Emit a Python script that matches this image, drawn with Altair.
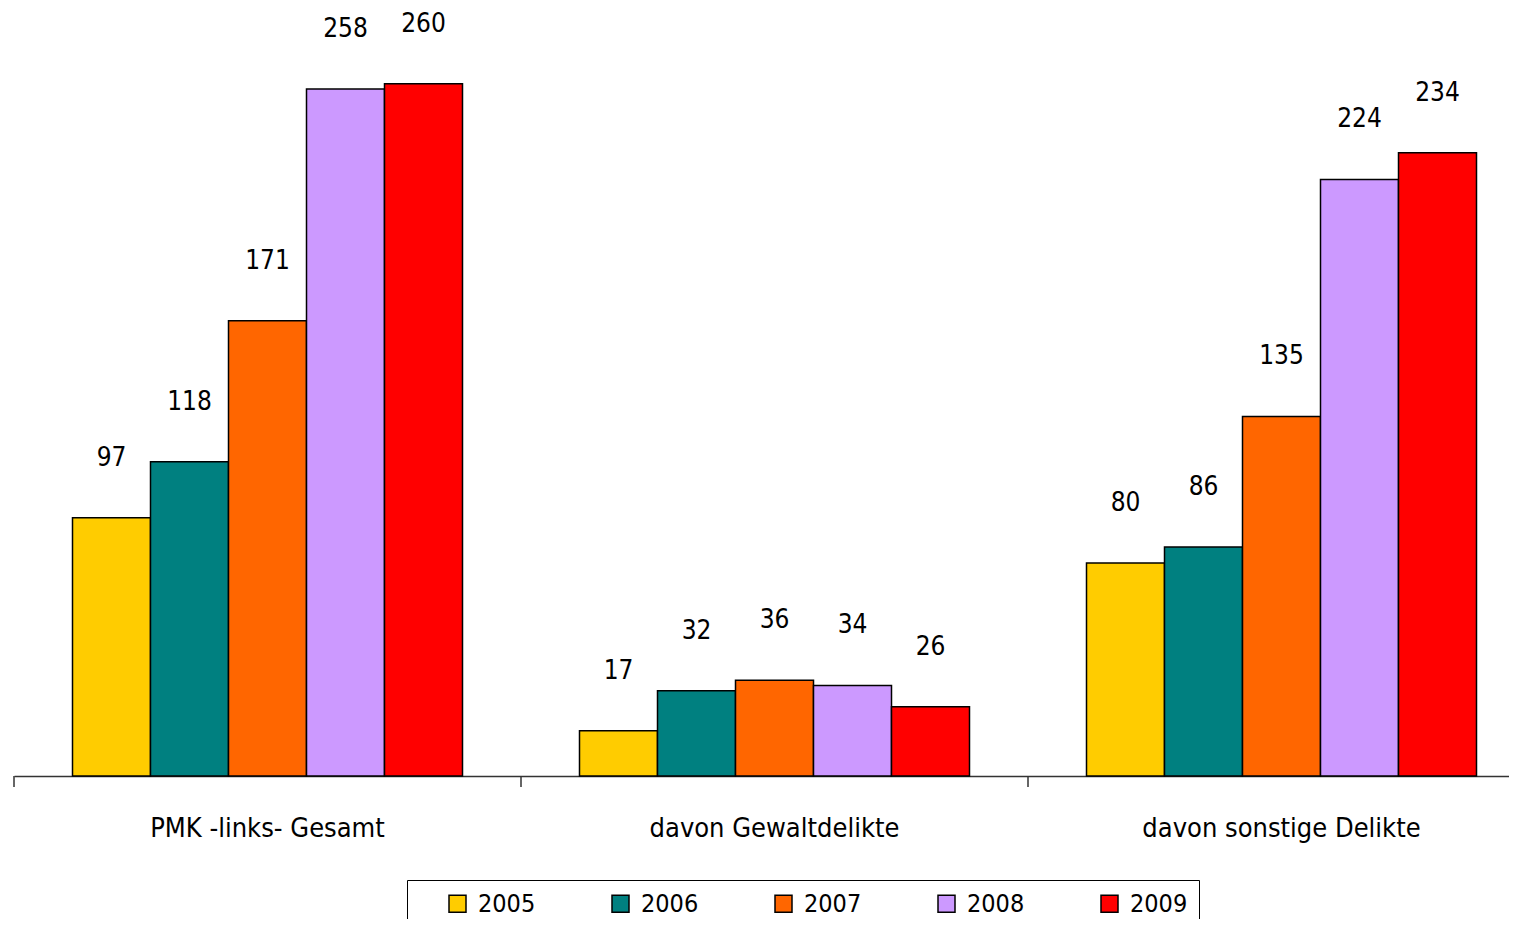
import altair as alt
import pandas as pd

groups = ["PMK -links- Gesamt", "davon Gewaltdelikte", "davon sonstige Delikte"]
years = ["2005", "2006", "2007", "2008", "2009"]
v2005 = [97, 17, 80]
v2006 = [118, 32, 86]
v2007 = [171, 36, 135]
v2008 = [258, 34, 224]
v2009 = [260, 26, 234]
colors = ["#FFCC00", "#008080", "#FF6600", "#CC99FF", "#FF0000"]

series = [v2005, v2006, v2007, v2008, v2009]
rows = []
for y, vals in zip(years, series):
    for g, v in zip(groups, vals):
        rows.append({"group": g, "year": y, "value": v})
df = pd.DataFrame(rows)
df_groups = pd.DataFrame({"group": groups})

FONT = "DejaVu Sans Condensed, Liberation Sans Narrow, sans-serif"
W, H = 1495, 768

xscale = alt.Scale(range=[0, 1521], paddingInner=0, paddingOuter=0)
xaxis = alt.Axis(title=None, ticks=False, labelPadding=60, labelBaseline="alphabetic",
                 labelFontSize=27, labelFont=FONT, labelColor="#000000", labelLimit=0,
                 domainColor="#333333", domainWidth=1.5, labelAngle=0)
yscale = alt.Scale(domain=[0, 288.4], nice=False)
xoff = alt.XOffset("year:N", sort=years, scale=alt.Scale(paddingInner=0, paddingOuter=0.75))

bars = alt.Chart(df).mark_bar(stroke="#000000", strokeWidth=1.5).encode(
    x=alt.X("group:N", sort=groups, scale=xscale, axis=xaxis),
    xOffset=xoff,
    y=alt.Y("value:Q", scale=yscale, axis=None),
    color=alt.Color("year:N", sort=years,
                    scale=alt.Scale(domain=years, range=colors),
                    legend=alt.Legend(title=None, orient="none", legendX=393, legendY=872,
                                      direction="horizontal", columns=5,
                                      symbolType="square", symbolSize=289,
                                      symbolStrokeColor="#000000", symbolStrokeWidth=1.5,
                                      symbolOffset=27, labelOffset=8, columnPadding=45,
                                      labelFontSize=25, labelFont=FONT, labelColor="#000000",
                                      strokeColor="#000000", padding=11,
                                      fillColor="#FFFFFF")),
)

labels = alt.Chart(df).mark_text(dy=-60, baseline="middle", fontSize=26, font=FONT,
                                 color="#000000").encode(
    x=alt.X("group:N", sort=groups, scale=xscale, axis=xaxis),
    xOffset=xoff,
    y=alt.Y("value:Q", scale=yscale, axis=None),
    text=alt.Text("value:Q"),
)

ticks = alt.Chart(df_groups).mark_rule(color="#333333", strokeWidth=1.5).encode(
    x=alt.X("group:N", sort=groups, scale=xscale, axis=xaxis, bandPosition=0),
    y=alt.value(H),
    y2=alt.value(H + 11),
)

chart = alt.layer(bars, labels, ticks).properties(
    width=W, height=H,
    background="#FFFFFF",
    autosize=alt.AutoSizeParams(type="none"),
    padding={"left": 6, "top": 0, "right": 0, "bottom": 143},
).configure_view(strokeWidth=0, stroke=None)

chart.save("out.html", embed_options={"renderer": "svg", "actions": False})
